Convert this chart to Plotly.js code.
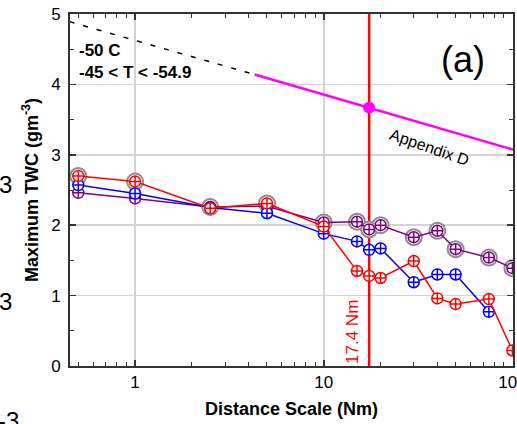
<!DOCTYPE html>
<html><head><meta charset="utf-8">
<script src="https://cdn.plot.ly/plotly-3.0.1.min.js"></script>
<style>body{margin:0;padding:0;background:#fff}#plot{width:517px;height:424px}</style>
</head><body><div id="plot"></div>
<script>
// Distance scale (Nm)
const distance = [0.5, 1, 2.5, 5, 10, 15, 17.4, 20, 30, 40, 50, 75, 100];
// Maximum TWC (g m^-3) per series
const redTWC    = [2.70, 2.62, 2.24, 2.31, 1.98, 1.35, 1.28, 1.25, 1.49, 0.96, 0.88, 0.95, 0.22];
const blueTWC   = [2.57, 2.45, 2.25, 2.17, 1.88, 1.77, 1.65, 1.67, 1.19, 1.30, 1.30, 0.77, null];
const purpleTWC = [2.46, 2.38, 2.26, 2.27, 2.04, 2.05, 1.94, 2.00, 1.83, 1.92, 1.66, 1.54, 1.39];
// Appendix D envelope
const appDx = [4.3, 17.4, 102];
const appDy = [4.14, 3.67, 3.07];
const extX = [0.45, 4.3];
const extY = [4.89, 4.14];
const markX = [17.4];
const markY = [3.67];
const vlineX = [17.4, 17.4];
const vlineY = [0, 5];
const xTicks = [1, 10, 100];
const xTickText = ['1', '10', '100'];
const xMinor = [0.5,0.6,0.7,0.8,0.9,2,3,4,5,6,7,8,9,20,30,40,50,60,70,80,90];

const maxTWC = distance.map((d,i)=>Math.max(redTWC[i], blueTWC[i]==null?-1:blueTWC[i], purpleTWC[i]));

const F = 'Liberation Sans, Arial, sans-serif';
function series(y, c){
  return {x: distance, y: y, type:'scatter', mode:'lines+markers', connectgaps:false,
    line:{color:c, width:1.5},
    marker:{symbol:'circle-cross', size:11, color:'#ffffff', line:{color:c, width:1.5}},
    hoverinfo:'skip', showlegend:false};
}
const traces = [
  {x: vlineX, y: vlineY, type:'scatter', mode:'lines', line:{color:'#ff0000', width:2.5}, showlegend:false, hoverinfo:'skip'},
  {x: extX, y: extY, type:'scatter', mode:'lines', line:{color:'#000', width:1.5, dash:'5px,9px'}, showlegend:false, hoverinfo:'skip'},
  {x: appDx, y: appDy, type:'scatter', mode:'lines', line:{color:'#ff00ff', width:2.5}, showlegend:false, hoverinfo:'skip'},
  {x: markX, y: markY, type:'scatter', mode:'markers', marker:{color:'#ff00ff', size:12}, showlegend:false, hoverinfo:'skip'},
  {x: distance, y: maxTWC, type:'scatter', mode:'markers', marker:{symbol:'circle', size:16, color:'#ffffff', line:{color:'#8c8c8c', width:2}}, showlegend:false, hoverinfo:'skip'},
  series(purpleTWC, '#800080'),
  series(blueTWC, '#0000ff'),
  series(redTWC, '#ff0000')
];
const layout = {
  width:517, height:424,
  margin:{l:70, r:4, t:14, b:58},
  paper_bgcolor:'#fff', plot_bgcolor:'#fff',
  font:{family:F, size:17, color:'#000'},
  showlegend:false,
  xaxis:{type:'log', range:[-0.345, 2.003], tickmode:'array', tickvals:xTicks, ticktext:xTickText,
    ticks:'inside', ticklen:6, tickwidth:1.5, tickcolor:'#333', ticklabeloverflow:'allow',
    minor:{tickmode:'array', tickvals:xMinor, ticks:'inside', ticklen:4, tickwidth:1, tickcolor:'#333', showgrid:false},
    showline:true, linecolor:'#333', linewidth:2, mirror:'ticks',
    showgrid:true, gridcolor:'#d4d4d4', gridwidth:1.5, zeroline:false,
    tickfont:{family:F, size:17},
    title:{text:'<b>Distance Scale (Nm)</b>', font:{family:F, size:18}, standoff:11}},
  yaxis:{range:[0,5], tickmode:'linear', tick0:0, dtick:1,
    ticks:'inside', ticklen:6, tickwidth:1.5, tickcolor:'#333',
    minor:{dtick:0.5, ticks:'inside', ticklen:4, tickwidth:1, tickcolor:'#333', showgrid:false},
    showline:true, linecolor:'#333', linewidth:2, mirror:'ticks',
    showgrid:true, gridcolor:'#d4d4d4', gridwidth:1.5, zeroline:false,
    tickfont:{family:F, size:17}, ticklabelstandoff:4,
    title:{text:'<b>Maximum TWC (gm<sup>-3</sup>)</b>', font:{family:F, size:18}, standoff:8}},
  annotations:[
    {xref:'paper', yref:'paper', x:0.016, y:0.896, xanchor:'left', yanchor:'middle', showarrow:false, text:'<b>-50 C</b>', font:{family:F, size:17}},
    {xref:'paper', yref:'paper', x:0.016, y:0.834, xanchor:'left', yanchor:'middle', showarrow:false, text:'<b>-45 &lt; T &lt; -54.9</b>', font:{family:F, size:17}},
    {xref:'paper', yref:'paper', x:0.888, y:0.87, xanchor:'center', yanchor:'middle', showarrow:false, text:'(a)', font:{family:F, size:36}},
    {xref:'x', yref:'y', x:1.5625, y:3.1, showarrow:false, text:'Appendix D', textangle:19, font:{family:F, size:16}},
    {xref:'x', yref:'y', x:1.152, y:0.49, showarrow:false, text:'17.4 Nm', textangle:-90, font:{family:F, size:17, color:'#ff0000'}},
    {xref:'paper', yref:'paper', x:-0.1445, y:0.517, xanchor:'center', yanchor:'middle', showarrow:false, text:'3', font:{family:F, size:24}},
    {xref:'paper', yref:'paper', x:-0.1445, y:0.182, xanchor:'center', yanchor:'middle', showarrow:false, text:'3', font:{family:F, size:24}},
    {xref:'paper', yref:'paper', x:-0.138, y:-0.156, xanchor:'center', yanchor:'middle', showarrow:false, text:'-3', font:{family:F, size:24}}
  ]
};
Plotly.newPlot('plot', traces, layout, {displayModeBar:false, staticPlot:true});
</script></body></html>
